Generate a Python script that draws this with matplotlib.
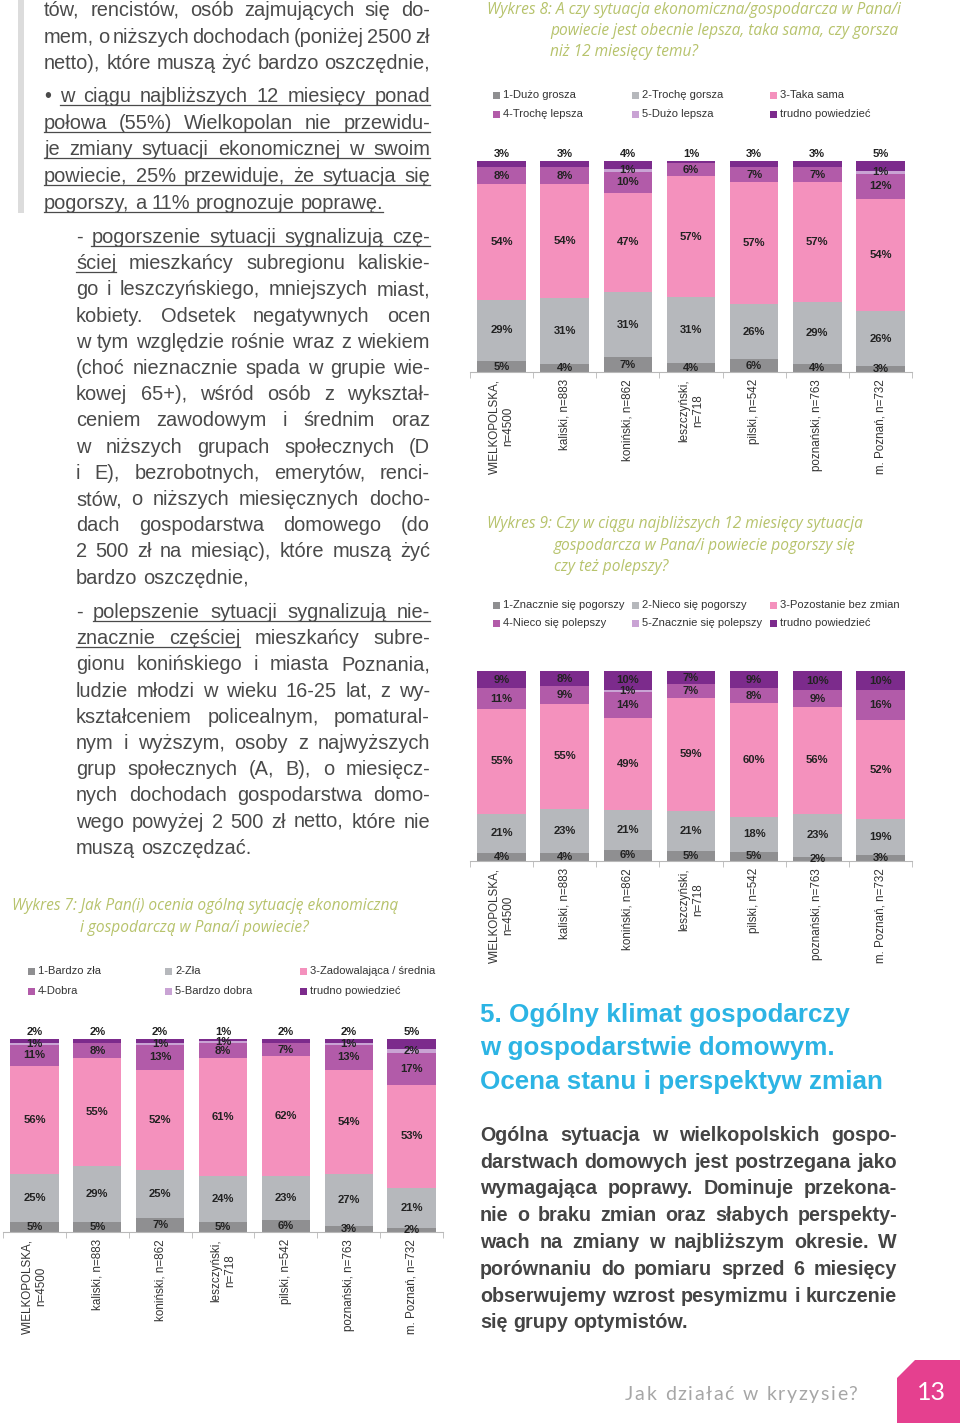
import matplotlib
matplotlib.use('Agg')
import matplotlib.pyplot as plt
from matplotlib.patches import Rectangle, Polygon
import numpy as np

W, H = 960, 1423
plt.rcParams['font.family'] = ['Liberation Sans', 'DejaVu Sans']

# --- data ---
regions = ['WIELKOPOLSKA,\nn=4500', 'kaliski, n=883', 'koniński, n=862',
           'leszczyński,\nn=718', 'pilski, n=542', 'poznański, n=763',
           'm. Poznań, n=732']

seg_colors = ['#8f8f91', '#b6b8bc', '#f491bd', '#b25ba9', '#c9a3d4', '#7c2b8c']

# Wykres 7: ocena ogolnej sytuacji w powiecie
w7_names = ['1-Bardzo zła', '2-Zła', '3-Zadowalająca / średnia',
            '4-Dobra', '5-Bardzo dobra', 'trudno powiedzieć']
w7_bardzo_zla = [5, 5, 7, 5, 6, 3, 2]
w7_zla = [25, 29, 25, 24, 23, 27, 21]
w7_srednia = [56, 55, 52, 61, 62, 54, 53]
w7_dobra = [11, 8, 13, 8, 7, 13, 17]
w7_bardzo_dobra = [1, 0, 1, 1, 0, 1, 2]
w7_trudno = [2, 2, 2, 1, 2, 2, 5]

# Wykres 8: sytuacja w porownaniu z 12 miesiecy temu
w8_names = ['1-Dużo grosza', '2-Trochę gorsza', '3-Taka sama',
            '4-Trochę lepsza', '5-Dużo lepsza', 'trudno powiedzieć']
w8_duzo_gorsza = [5, 4, 7, 4, 6, 4, 3]
w8_troche_gorsza = [29, 31, 31, 31, 26, 29, 26]
w8_taka_sama = [54, 54, 47, 57, 57, 57, 54]
w8_troche_lepsza = [8, 8, 10, 6, 7, 7, 12]
w8_duzo_lepsza = [0, 0, 1, 0, 0, 0, 1]
w8_trudno = [3, 3, 4, 1, 3, 3, 5]

# Wykres 9: prognoza na 12 miesiecy
w9_names = ['1-Znacznie się pogorszy', '2-Nieco się pogorszy', '3-Pozostanie bez zmian',
            '4-Nieco się polepszy', '5-Znacznie się polepszy', 'trudno powiedzieć']
w9_znacznie_gorzej = [4, 4, 6, 5, 5, 2, 3]
w9_nieco_gorzej = [21, 23, 21, 21, 18, 23, 19]
w9_bez_zmian = [55, 55, 49, 59, 60, 56, 52]
w9_nieco_lepiej = [11, 9, 14, 7, 8, 9, 16]
w9_znacznie_lepiej = [0, 0, 1, 0, 0, 0, 0]
w9_trudno = [9, 8, 10, 7, 9, 10, 10]

fig = plt.figure(figsize=(W / 100, H / 100), dpi=100)
fig.patch.set_facecolor('white')

# background axes in pixel coordinates for page text
bg = fig.add_axes([0, 0, 1, 1])
bg.set_xlim(0, W)
bg.set_ylim(H, 0)
bg.axis('off')

renderer = fig.canvas.get_renderer()

TEXT_GRAY = '#4a4a4a'


def text_block(lines, x0, x1, y0, dy, fs, color, weight='normal'):
    """Justified text, one entry per line: (text, justify, underline word range)."""
    for k, (line, just, ul) in enumerate(lines):
        y = y0 + k * dy
        words = line.split()
        size = fs
        while True:
            arts = [bg.text(0, y, w, fontsize=size, color=color, fontweight=weight,
                            va='baseline', ha='left') for w in words]
            widths = [a.get_window_extent(renderer).width for a in arts]
            px = size * 100 / 72
            if just and len(words) > 1:
                gap = (x1 - x0 - sum(widths)) / (len(words) - 1)
            else:
                gap = px * 0.28
            if gap >= px * 0.17 or size < fs - 2.5:
                break
            for a in arts:
                a.remove()
            size -= 0.2
        cx = x0
        spans = []
        for a, wd in zip(arts, widths):
            a.set_x(cx)
            spans.append((cx, cx + wd))
            cx += wd + gap
        if ul is not None:
            i0, i1 = ul
            bg.plot([spans[i0][0], spans[i1][1]], [y + 3, y + 3], color=color, lw=0.9)


# grey side bar
bg.add_patch(Rectangle((18, 0), 6, 213, color='#dcdcdc', lw=0))

block1 = [
    ('tów, rencistów, osób zajmujących się do-', True, None),
    ('mem, o niższych dochodach (poniżej 2500 zł', True, None),
    ('netto), które muszą żyć bardzo oszczędnie,', True, None),
    ('• w ciągu najbliższych 12 miesięcy ponad', True, (1, 6)),
    ('połowa (55%) Wielkopolan nie przewidu-', True, (0, 4)),
    ('je zmiany sytuacji ekonomicznej w swoim', True, (0, 5)),
    ('powiecie, 25% przewiduje, że sytuacja się', True, (0, 5)),
    ('pogorszy, a 11% prognozuje poprawę.', False, (0, 4)),
]
BODY = 14.4
text_block(block1[:3], 44, 430, 16, 26.6, BODY, TEXT_GRAY)
text_block(block1[3:], 44, 430, 102, 26.7, BODY, TEXT_GRAY)

block2 = [
    ('- pogorszenie sytuacji sygnalizują czę-', True, (1, 4)),
    ('ściej mieszkańcy subregionu kaliskie-', True, (0, 0)),
    ('go i leszczyńskiego, mniejszych miast,', True, None),
    ('kobiety. Odsetek negatywnych ocen', True, None),
    ('w tym względzie rośnie wraz z wiekiem', True, None),
    ('(choć nieznacznie spada w grupie wie-', True, None),
    ('kowej 65+), wśród osób z wykształ-', True, None),
    ('ceniem zawodowym i średnim oraz', True, None),
    ('w niższych grupach społecznych (D', True, None),
    ('i E), bezrobotnych, emerytów, renci-', True, None),
    ('stów, o niższych miesięcznych docho-', True, None),
    ('dach gospodarstwa domowego (do', True, None),
    ('2 500 zł na miesiąc), które muszą żyć', True, None),
    ('bardzo oszczędnie,', False, None),
]
text_block(block2, 76, 430, 243, 26.2, BODY, TEXT_GRAY)

block3 = [
    ('- polepszenie sytuacji sygnalizują nie-', True, (1, 4)),
    ('znacznie częściej mieszkańcy subre-', True, (0, 1)),
    ('gionu konińskiego i miasta Poznania,', True, None),
    ('ludzie młodzi w wieku 16-25 lat, z wy-', True, None),
    ('kształceniem policealnym, pomatural-', True, None),
    ('nym i wyższym, osoby z najwyższych', True, None),
    ('grup społecznych (A, B), o miesięcz-', True, None),
    ('nych dochodach gospodarstwa domo-', True, None),
    ('wego powyżej 2 500 zł netto, które nie', True, None),
    ('muszą oszczędzać.', False, None),
]
text_block(block3, 76, 430, 618, 26.2, BODY, TEXT_GRAY)

# chart titles
TITLE_COL = '#b7c36c'


def chart_title(lines, y0, dy):
    for k, (x, s) in enumerate(lines):
        bg.text(x, y0 + k * dy, s, fontsize=11.2, color=TITLE_COL, style='italic',
                family=['Open Sans', 'DejaVu Sans'], va='center', ha='left')


chart_title([(487, 'Wykres 8: A czy sytuacja ekonomiczna/gospodarcza w Pana/i'),
             (550, 'powiecie jest obecnie lepsza, taka sama, czy gorsza'),
             (550, 'niż 12 miesięcy temu?')], 10, 21)
chart_title([(487, 'Wykres 9: Czy w ciągu najbliższych 12 miesięcy sytuacja'),
             (554, 'gospodarcza w Pana/i powiecie pogorszy się'),
             (554, 'czy też polepszy?')], 524, 21.5)
chart_title([(12, 'Wykres 7: Jak Pan(i) ocenia ogólną sytuację ekonomiczną'),
             (80, 'i gospodarczą w Pana/i powiecie?')], 906, 22)


def legend(names, xs, ys):
    for i, name in enumerate(names):
        x = xs[i % 3]
        y = ys[i // 3]
        bg.add_patch(Rectangle((x, y - 3.5), 7, 7, color=seg_colors[i], lw=0))
        bg.text(x + 10, y, name, fontsize=8, color='#333333', va='center', ha='left')


def stacked(rect, series):
    left, top, right, bottom = rect
    ax = fig.add_axes([left / W, 1 - bottom / H, (right - left) / W, (bottom - top) / H])
    data = np.array(series, dtype=float)
    shares = data / data.sum(axis=0) * 100
    x = np.arange(len(regions))
    base = np.zeros(len(regions))
    last = len(data) - 1
    for i in range(len(data)):
        ax.bar(x, shares[i], 0.77, bottom=base, color=seg_colors[i], linewidth=0)
        for j in x:
            v = data[i, j]
            if v <= 0:
                continue
            if i == last and v < 7:
                yy, va = base[j] + shares[i, j] + 0.8, 'bottom'
            else:
                yy, va = base[j] + shares[i, j] / 2, 'center'
            ax.text(j, yy, f'{int(v)}%', ha='center', va=va, fontsize=8.1,
                    fontweight='bold', color='#222222', clip_on=False)
        base += shares[i]
    ax.set_xlim(-0.5, len(x) - 0.5)
    ax.set_ylim(0, 100)
    for s in ['top', 'right', 'left']:
        ax.spines[s].set_visible(False)
    ax.spines['bottom'].set_color('#b8b8b8')
    ax.set_yticks([])
    ax.set_xticks(x)
    ax.set_xticklabels(regions, rotation=90, va='top', ha='center',
                       multialignment='center', fontsize=8.4, color='#333333')
    ax.set_xticks(np.arange(len(x) + 1) - 0.5, minor=True)
    ax.tick_params(axis='x', which='major', length=0, pad=5)
    ax.tick_params(axis='x', which='minor', length=4, color='#b8b8b8')
    ax.set_facecolor('none')
    return ax


legend(w8_names, [493, 632, 770], [95, 114])
stacked((470, 161, 912, 372),
        [w8_duzo_gorsza, w8_troche_gorsza, w8_taka_sama,
         w8_troche_lepsza, w8_duzo_lepsza, w8_trudno])

legend(w9_names, [493, 632, 770], [605, 623])
stacked((470, 671, 912, 861),
        [w9_znacznie_gorzej, w9_nieco_gorzej, w9_bez_zmian,
         w9_nieco_lepiej, w9_znacznie_lepiej, w9_trudno])

legend(w7_names, [28, 165, 300], [971, 991])
stacked((3, 1039, 443, 1232),
        [w7_bardzo_zla, w7_zla, w7_srednia,
         w7_dobra, w7_bardzo_dobra, w7_trudno])

# section heading
for k, s in enumerate(['5. Ogólny klimat gospodarczy', 'w gospodarstwie domowym.',
                       'Ocena stanu i perspektyw zmian']):
    bg.text(480, 1015 + k * 33.3, s, fontsize=18.7, fontweight='bold', color='#2cb4e4',
            va='center', ha='left')

para = [
    ('Ogólna sytuacja w wielkopolskich gospo-', True, None),
    ('darstwach domowych jest postrzegana jako', True, None),
    ('wymagająca poprawy. Dominuje przekona-', True, None),
    ('nie o braku zmian oraz słabych perspekty-', True, None),
    ('wach na zmiany w najbliższym okresie. W', True, None),
    ('porównaniu do pomiaru sprzed 6 miesięcy', True, None),
    ('obserwujemy wzrost pesymizmu i kurczenie', True, None),
    ('się grupy optymistów.', False, None),
]
text_block(para, 480, 897, 1141, 26.75, 14.2, '#444444', weight='bold')

# footer
footer = 'Jak działać w kryzysie?'
cx = 625
for ch in footer:
    if ch == ' ':
        cx += 7
        continue
    t = bg.text(cx, 1400, ch, fontsize=14, color='#a6a6a6', family=['Lato', 'DejaVu Sans'],
                va='baseline', ha='left')
    cx += t.get_window_extent(renderer).width + 1.6

bg.add_patch(Polygon([(897, 1423), (897, 1378), (915, 1360), (960, 1360), (960, 1423)],
                     closed=True, color='#e5408f', lw=0))
bg.text(931, 1392, '13', fontsize=18, color='white', ha='center', va='center',
        family=['Lato', 'DejaVu Sans'])

fig.savefig('out.png', dpi=100)
